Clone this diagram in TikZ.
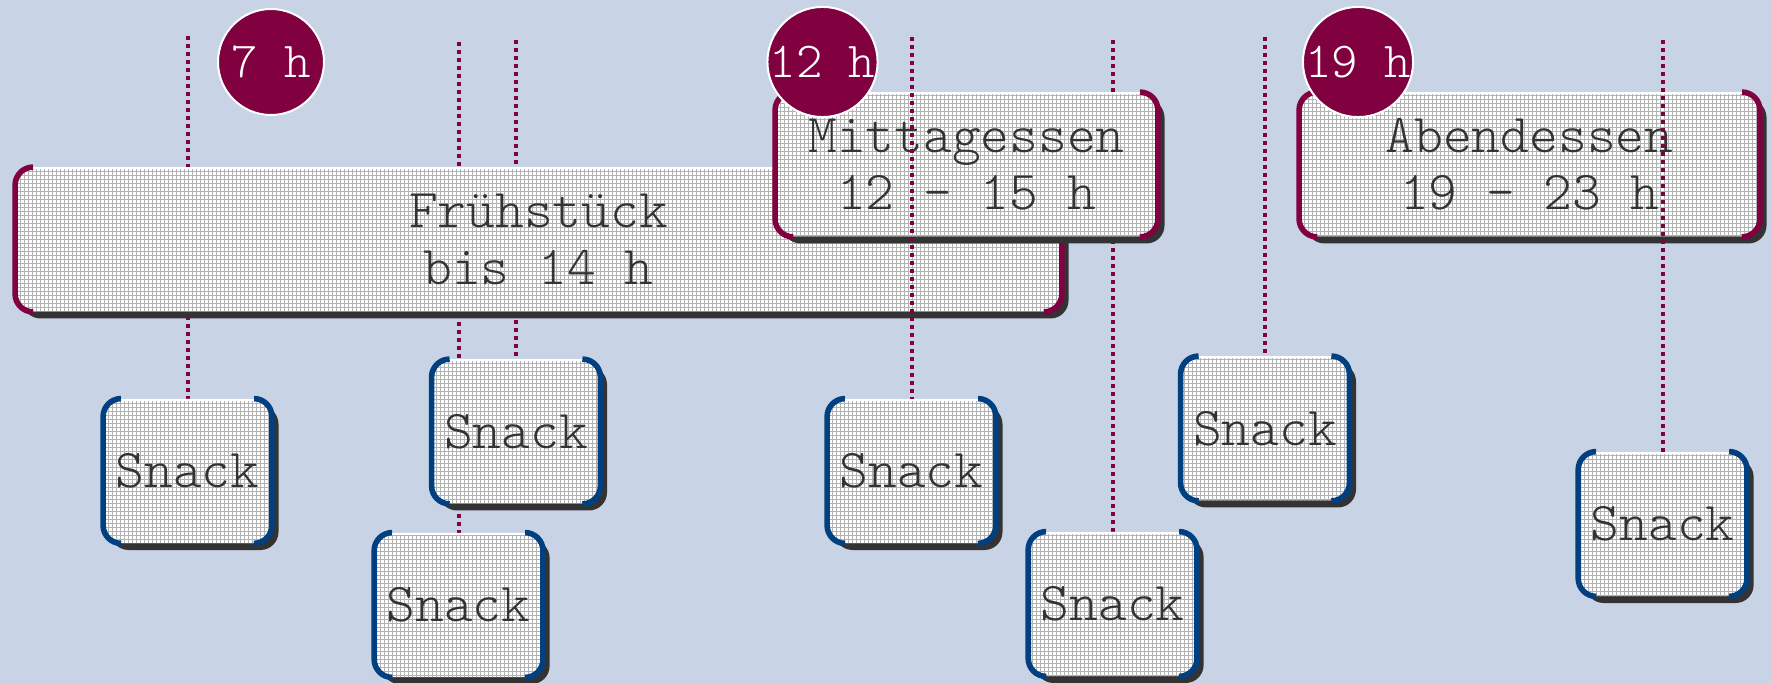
\documentclass[tikz,border=0pt]{standalone}
\usepackage{fontspec}
\newfontfamily\monofont{Latin Modern Mono Light}
\usetikzlibrary{shadows,patterns.meta}
\definecolor{bgcol}{RGB}{200,211,230}
\definecolor{maroon}{RGB}{128,0,64}
\definecolor{navy}{RGB}{0,64,128}
\definecolor{shadowgray}{RGB}{51,51,51}
\definecolor{textgray}{RGB}{51,51,51}
\pgfdeclarelayer{back}
\pgfdeclarelayer{front}
\pgfsetlayers{back,main,front}
\tikzset{
  boxbase/.style={rectangle, rounded corners=9pt, inner sep=0pt,
    drop shadow={shadow xshift=3.5pt, shadow yshift=-3.5pt, fill=shadowgray, opacity=1},
    preaction={fill=white},
    pattern={Hatch[angle=0, distance=2pt, line width=0.4pt]}, pattern color=black!30,
    text=textgray, font=\monofont\fontsize{27.4}{28.5}\selectfont, align=center},
  mealbox/.style={boxbase, minimum height=72pt},
  snackbox/.style={boxbase, minimum width=84pt, minimum height=72pt},
  timecircle/.style={circle, fill=maroon, draw=white, line width=1pt,
    minimum size=53pt, inner sep=0pt, text=white,
    font=\monofont\fontsize{25.2}{26}\selectfont},
  guide/.style={maroon, line width=2pt, dash pattern=on 2pt off 2pt},
  bracketline/.style={line width=2.8pt, rounded corners=9pt},
}
\newcommand\boxbrackets[2]{%
  \draw[bracketline,#2] ([xshift=9pt]#1.north west) -- (#1.north west)
    -- (#1.south west) -- ([xshift=9pt]#1.south west);
  \draw[bracketline,#2] ([xshift=-9pt]#1.north east) -- (#1.north east)
    -- (#1.south east) -- ([xshift=-9pt]#1.south east);
  \draw[white, line width=1.2pt] ([xshift=9pt,yshift=-0.6pt]#1.north west)
    -- ([xshift=-9pt,yshift=-0.6pt]#1.north east);
}
\begin{document}
\begin{tikzpicture}[x=0.5pt, y=-0.5pt]
\useasboundingbox (0,0) rectangle (1771,683);

% snack boxes
\node[snackbox] (s1) at (187.5,471) {Snack};
\boxbrackets{s1}{navy}
\node[snackbox] (s2) at (458.6,605) {Snack};
\boxbrackets{s2}{navy}
\node[snackbox] (s3) at (516,431.5) {Snack};
\boxbrackets{s3}{navy}
\node[snackbox] (s4) at (911.5,471) {Snack};
\boxbrackets{s4}{navy}
\node[snackbox] (s5) at (1112.6,604) {Snack};
\boxbrackets{s5}{navy}
\node[snackbox] (s6) at (1265,428.5) {Snack};
\boxbrackets{s6}{navy}
\node[snackbox] (s7) at (1662.6,524) {Snack};
\boxbrackets{s7}{navy}

% meal boxes
\node[mealbox, minimum width=523pt] (fr) at (538.5,239.5) {Frühstück\\bis 14 h};
\boxbrackets{fr}{maroon}
\node[mealbox, minimum width=191pt] (mi) at (966.5,164.5) {Mittagessen\\12 - 15 h};
\boxbrackets{mi}{maroon}
\node[mealbox, minimum width=230pt] (ab) at (1529.5,164.5) {Abendessen\\19 - 23 h};
\boxbrackets{ab}{maroon}

% time circles
\node[timecircle] (c7) at (271,62) {7 h};
\node[timecircle] (c12) at (822.5,62) {12 h};
\node[timecircle] (c19) at (1358,62) {19 h};

% guide line tops
\coordinate (t1) at (187.5,36);
\coordinate (t2) at (458.6,42);
\coordinate (t3) at (516,40);
\coordinate (t4) at (911.5,37);
\coordinate (t5) at (1112.6,40);
\coordinate (t6) at (1265,37);
\coordinate (t7) at (1662.6,40);

\begin{pgfonlayer}{back}
  \fill[bgcol] (0,0) rectangle (1771,683);
  \draw[guide] (t1) -- (s1.north);
  \draw[guide] (t2) -- (s2.north);
  \draw[guide] (t3) -- (s3.north);
  \draw[guide] (t5) -- (s5.north);
  \draw[guide] (t6) -- (s6.north);
\end{pgfonlayer}
\begin{pgfonlayer}{front}
  \draw[guide] (t4) -- (s4.north);
  \draw[guide] (t7) -- (s7.north);
\end{pgfonlayer}
\end{tikzpicture}
\end{document}
